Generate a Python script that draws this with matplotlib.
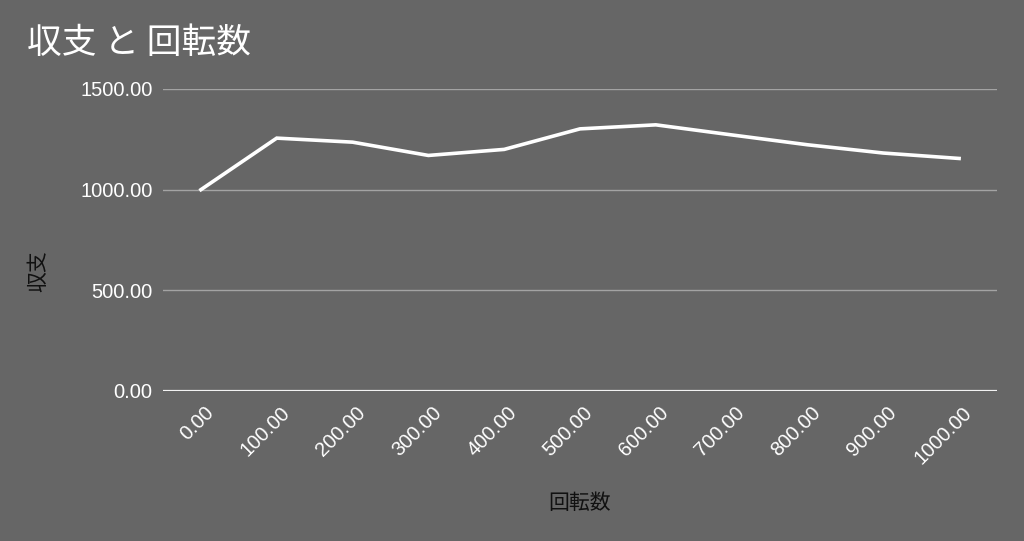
import matplotlib
matplotlib.use("Agg")
import matplotlib.pyplot as plt
from matplotlib.ticker import FormatStrFormatter

plt.rcParams['font.family'] = ['Liberation Sans', 'Noto Sans CJK JP', 'DejaVu Sans']

# 回転数 vs 収支
spins = [0, 100, 200, 300, 400, 500, 600, 700, 800, 900, 1000]
balance = [1000, 1256, 1236, 1170, 1200, 1302, 1322, 1272, 1223, 1182, 1155]
y_ticks = [0, 500, 1000, 1500]

title = "収支 と 回転数"
x_label = "回転数"
y_label = "収支"

bg = "#666666"
fig = plt.figure(figsize=(10.24, 5.41), dpi=100, facecolor=bg)
ax = fig.add_axes([163 / 1024, 1 - 391 / 541, (997 - 163) / 1024, (391 - 89) / 541])
ax.set_facecolor(bg)

ax.plot(spins, balance, color="white", lw=2.6, solid_joinstyle="miter", zorder=3)

ax.set_xlim(-50, 1050)
ax.set_ylim(0, 1500)
ax.set_xticks(spins)
ax.set_yticks(y_ticks)
ax.xaxis.set_major_formatter(FormatStrFormatter("%.2f"))
ax.yaxis.set_major_formatter(FormatStrFormatter("%.2f"))

ax.grid(axis="y", color="#a3a3a3", lw=1.0, zorder=1)
ax.axhline(0, color="#f2f2f2", lw=1.6, zorder=2)
for s in ax.spines.values():
    s.set_visible(False)

ax.tick_params(axis="y", length=0, pad=7.5, labelsize=14.5, labelcolor="white")
ax.tick_params(axis="x", length=0, pad=4, labelsize=14.5, labelcolor="white")
for lbl in ax.get_xticklabels():
    lbl.set_rotation(45)
    lbl.set_ha("right")
    lbl.set_va("center")
    lbl.set_rotation_mode("anchor")
    lbl.set_transform(lbl.get_transform() + matplotlib.transforms.ScaledTranslation(0.10, -0.13, fig.dpi_scale_trans))

fig.text(27 / 1024, 1 - 43 / 541, title, color="white", fontsize=25,
         family=["Noto Sans CJK JP", "DejaVu Sans"], ha="left", va="center")
fig.text(580 / 1024, 1 - 503 / 541, x_label, color="#111111", fontsize=15,
         family=["Noto Sans CJK JP", "DejaVu Sans"], ha="center", va="center")
fig.text(38 / 1024, 1 - 271 / 541, y_label, color="#111111", fontsize=15, rotation=90,
         family=["Noto Sans CJK JP", "DejaVu Sans"], ha="center", va="center")

fig.savefig("out.png", dpi=100, facecolor=bg)
